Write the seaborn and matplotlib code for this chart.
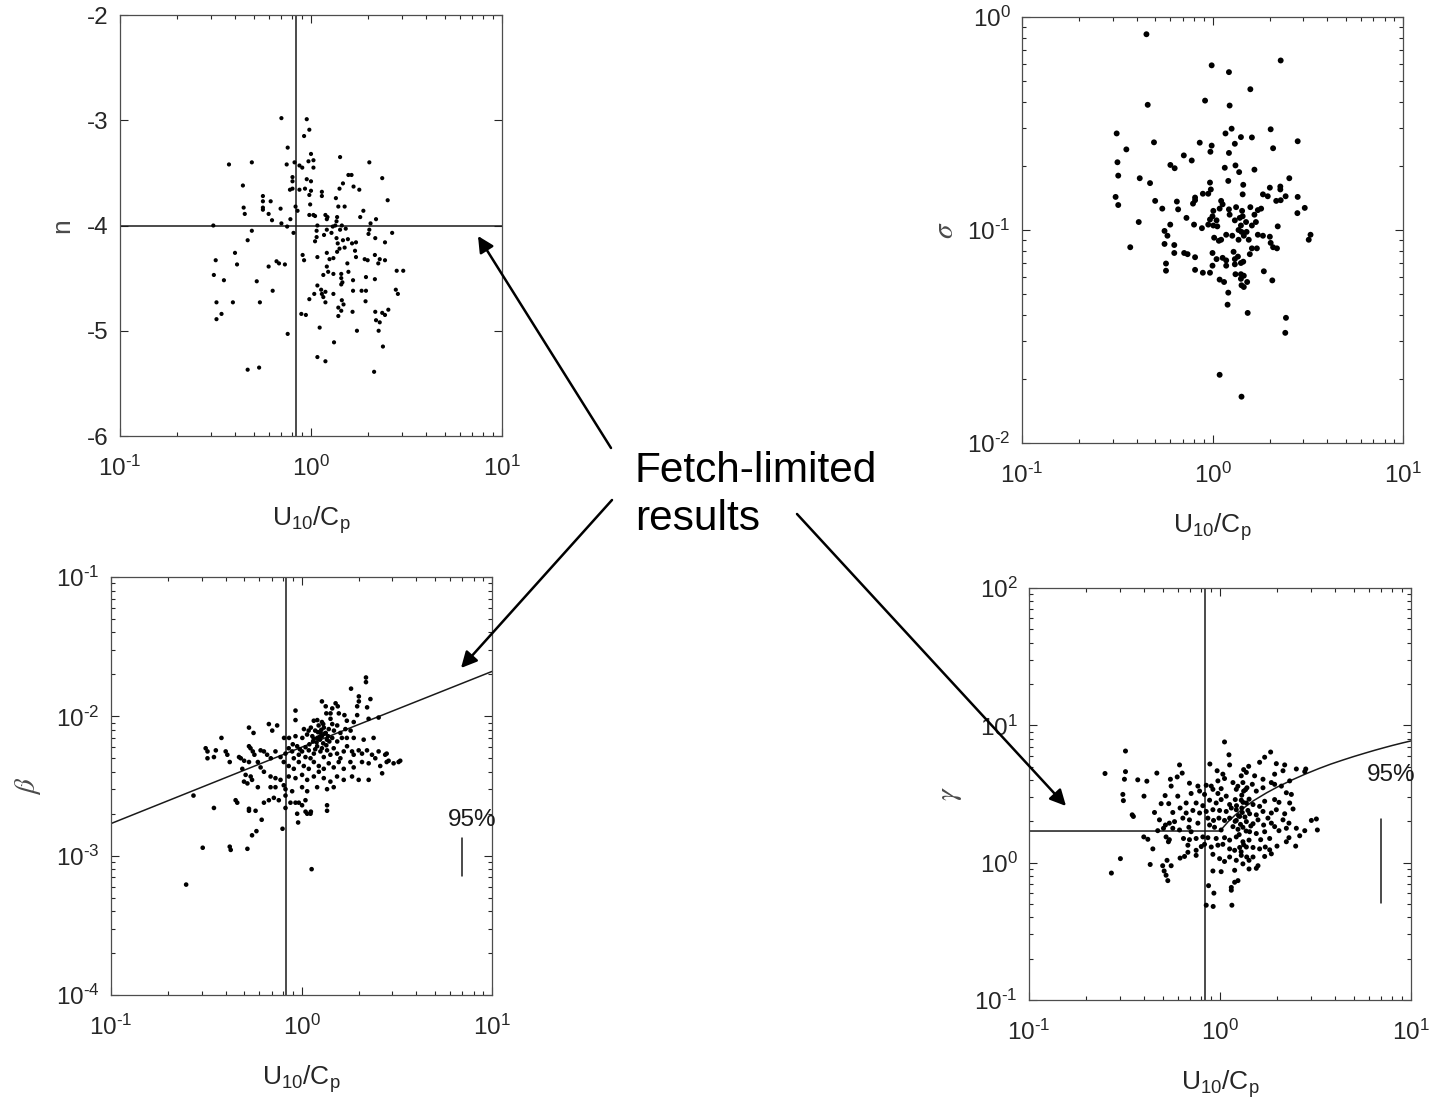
import numpy as np
import pandas as pd
import seaborn as sns
import matplotlib
matplotlib.use("Agg")
import matplotlib.pyplot as plt
from matplotlib.ticker import FuncFormatter

# ---------------- data ----------------
n_data = [(0.70,-2.98),(0.95,-2.99),(0.98,-3.09),(0.92,-3.15),(0.755,-3.26),(1.00,-3.32),(1.42,-3.35),
(0.372,-3.42),(0.49,-3.40),(0.746,-3.42),(0.82,-3.40),(0.97,-3.39),(1.03,-3.38),(1.03,-3.45),(2.02,-3.40),
(0.87,-3.43),(0.90,-3.45),(0.80,-3.54),(0.80,-3.58),(0.95,-3.56),(1.00,-3.58),(1.57,-3.52),(1.63,-3.52),
(2.36,-3.55),(0.44,-3.62),(0.776,-3.66),(0.80,-3.65),(0.93,-3.65),(1.00,-3.67),(0.98,-3.71),(0.87,-3.66),
(1.47,-3.60),(1.41,-3.65),(1.67,-3.63),(1.79,-3.66),(1.14,-3.68),(1.14,-3.72),(1.35,-3.74),(2.52,-3.76),
(0.56,-3.72),(0.56,-3.77),(0.615,-3.77),(0.444,-3.83),(0.45,-3.89),(0.56,-3.83),(0.56,-3.85),(0.693,-3.84),
(0.60,-3.89),(0.83,-3.82),(0.85,-3.86),(0.99,-3.80),(0.98,-3.90),(1.03,-3.90),(1.05,-3.91),(1.39,-3.82),
(1.50,-3.82),(1.88,-3.86),(1.81,-3.92),(2.19,-3.94),(2.05,-3.98),(0.308,-4.00),(0.625,-3.95),(0.70,-3.98),
(0.75,-4.01),(0.78,-3.94),(0.81,-4.07),(0.49,-4.05),(0.466,-4.14),(1.08,-4.00),(1.19,-3.90),(1.21,-3.94),
(1.22,-3.92),(1.37,-3.92),(1.36,-3.96),(1.34,-4.00),(1.45,-4.00),(1.42,-4.04),(1.52,-4.03),(1.30,-4.01),
(1.28,-4.07),(1.07,-4.05),(1.07,-4.11),(1.05,-4.15),(1.17,-4.09),(1.21,-4.04),(2.02,-4.04),(2.00,-4.08),
(2.17,-4.12),(2.44,-4.16),(2.66,-4.07),(1.36,-4.12),(1.38,-4.17),(1.47,-4.14),(1.41,-4.22),(1.37,-4.25),
(1.50,-4.21),(1.56,-4.13),(1.64,-4.17),(1.72,-4.16),(1.70,-4.24),(1.72,-4.30),(1.55,-4.36),(1.57,-4.44),
(1.44,-4.46),(1.44,-4.50),(1.46,-4.54),(1.44,-4.56),(1.31,-4.46),(1.23,-4.44),(1.16,-4.47),(1.21,-4.39),
(1.25,-4.32),(1.21,-4.26),(1.31,-4.31),(1.08,-4.30),(0.904,-4.28),(0.92,-4.33),(0.73,-4.37),(0.68,-4.36),
(0.66,-4.34),(0.60,-4.39),(0.317,-4.33),(0.31,-4.47),(0.35,-4.52),(0.32,-4.73),(0.32,-4.89),(0.34,-4.84),
(0.39,-4.73),(0.40,-4.26),(0.41,-4.37),(0.52,-4.53),(0.63,-4.62),(0.54,-4.73),(1.91,-4.32),(1.98,-4.33),
(2.16,-4.28),(2.29,-4.32),(2.25,-4.36),(2.44,-4.33),(2.81,-4.43),(3.04,-4.43),(1.94,-4.49),(1.84,-4.62),
(1.94,-4.62),(1.93,-4.72),(2.16,-4.51),(2.78,-4.61),(2.85,-4.65),(1.66,-4.52),(1.66,-4.62),(1.08,-4.57),
(1.13,-4.61),(1.14,-4.65),(1.19,-4.63),(1.16,-4.68),(1.04,-4.65),(0.98,-4.70),(1.31,-4.65),(1.19,-4.73),
(1.45,-4.71),(1.48,-4.75),(1.44,-4.81),(1.39,-4.78),(1.39,-4.86),(1.65,-4.82),(0.89,-4.84),(0.94,-4.85),
(1.74,-5.00),(1.11,-4.97),(1.32,-5.11),(2.17,-4.82),(2.19,-4.90),(2.29,-4.92),(2.36,-4.83),(2.44,-4.85),
(2.54,-4.80),(2.26,-5.00),(2.38,-5.15),(0.755,-5.03),(1.08,-5.25),(1.19,-5.29),(2.14,-5.39),(0.466,-5.37),
(0.535,-5.35)]

sigma_data = [(0.45,0.83),(2.28,0.625),(0.99,0.593),(1.22,0.551),(1.58,0.458),(0.457,0.387),(0.914,0.405),
(1.23,0.384),(0.314,0.284),(1.26,0.299),(1.17,0.284),(2.02,0.297),(2.80,0.261),(0.493,0.258),(0.857,0.257),
(0.99,0.249),(1.41,0.273),(1.61,0.272),(1.31,0.254),(1.22,0.230),(0.975,0.233),(2.08,0.242),(0.353,0.239),
(0.707,0.224),(0.778,0.212),(0.317,0.208),(0.601,0.202),(0.633,0.195),(1.16,0.196),(1.32,0.201),(1.38,0.187),
(1.66,0.192),(0.32,0.180),(0.415,0.175),(0.47,0.166),(1.21,0.170),(0.97,0.167),(0.98,0.155),(0.95,0.148),
(2.53,0.175),(2.27,0.160),(2.27,0.155),(2.0,0.158),(1.45,0.163),(1.44,0.147),(1.84,0.147),(1.95,0.144),
(2.16,0.137),(2.28,0.138),(2.42,0.144),(2.8,0.143),(3.05,0.127),(2.79,0.120),(0.31,0.143),(0.32,0.131),
(0.50,0.137),(0.545,0.126),(0.65,0.136),(0.66,0.125),(0.41,0.109),(0.73,0.114),(0.79,0.133),(0.81,0.142),
(0.81,0.138),(0.89,0.148),(1.11,0.137),(1.09,0.126),(1.13,0.132),(1.01,0.123),(1.0,0.116),(0.97,0.112),
(1.05,0.111),(1.01,0.105),(0.95,0.106),(0.80,0.106),(0.88,0.102),(1.06,0.104),(1.22,0.125),(1.23,0.118),
(1.33,0.128),(1.43,0.123),(1.31,0.111),(1.39,0.114),(1.44,0.116),(1.50,0.109),(1.58,0.128),(1.66,0.118),
(1.73,0.124),(1.80,0.126),(1.61,0.105),(1.69,0.109),(1.41,0.105),(1.37,0.100),(1.42,0.098),(1.51,0.098),
(1.46,0.094),(1.55,0.090),(1.37,0.090),(1.27,0.094),(1.18,0.095),(1.11,0.090),(1.02,0.092),(1.08,0.089),
(1.73,0.095),(1.84,0.094),(2.0,0.093),(2.20,0.104),(2.02,0.087),(2.08,0.083),(2.18,0.082),(3.27,0.095),
(3.2,0.090),(0.56,0.099),(0.58,0.094),(0.60,0.106),(0.56,0.086),(0.63,0.085),(0.63,0.078),(0.37,0.083),
(0.71,0.078),(0.74,0.077),(0.81,0.0745),(0.57,0.0696),(0.57,0.0644),(0.81,0.065),(0.89,0.063),(0.97,0.063),
(1.0,0.068),(1.0,0.078),(1.05,0.073),(1.13,0.074),(1.18,0.072),(1.18,0.068),(1.29,0.079),(1.31,0.073),
(1.36,0.075),(1.31,0.069),(1.41,0.070),(1.45,0.071),(1.57,0.077),(1.61,0.082),(1.71,0.082),(1.32,0.062),
(1.41,0.062),(1.46,0.061),(1.41,0.059),(1.52,0.057),(1.42,0.055),(1.46,0.054),(1.86,0.064),(2.06,0.058),
(1.09,0.0585),(1.15,0.057),(1.21,0.0508),(1.20,0.0446),(1.53,0.0408),(2.43,0.0387),(2.41,0.0329),
(1.09,0.0209),(1.42,0.0165)]

beta_data = [(2.18,0.0190),(2.18,0.0176),(1.82,0.0158),(2.0,0.0139),(2.30,0.0133),(2.0,0.0128),(1.28,0.0128),
(1.51,0.0124),(1.55,0.0118),(0.93,0.0110),(1.34,0.0118),(1.45,0.0114),(1.96,0.0118),(2.21,0.0116),
(1.35,0.0105),(1.42,0.0105),(1.57,0.0105),(1.68,0.0102),(1.73,0.0093),(1.96,0.0102),(0.93,0.0094),
(1.21,0.0094),(1.28,0.0091),(1.42,0.0096),(2.25,0.0096),(2.54,0.0098),(1.88,0.0091),(1.54,0.0086),
(1.45,0.0088),(0.674,0.0088),(0.745,0.0086),(0.702,0.0079),(0.53,0.0083),(0.56,0.0076),(0.38,0.0070),
(1.03,0.0081),(1.09,0.0079),(1.16,0.0093),(1.23,0.0086),(1.31,0.0083),(1.18,0.0079),(1.26,0.0076),
(1.34,0.0076),(1.39,0.0081),(1.48,0.0079),(1.60,0.0076),(1.70,0.0081),(1.81,0.0079),(0.81,0.0070),
(0.86,0.0070),(0.93,0.0072),(1.01,0.0070),(1.07,0.0074),(1.14,0.0072),(1.21,0.0070),(1.28,0.0072),
(1.36,0.0068),(1.45,0.0070),(1.54,0.0066),(1.63,0.0070),(1.73,0.0070),(1.88,0.0070),(2.12,0.0068),
(2.39,0.0070),(0.314,0.0059),(0.321,0.0056),(0.321,0.0050),(0.355,0.0057),(0.347,0.0051),(0.40,0.0056),
(0.408,0.0053),(0.42,0.0047),(0.47,0.0051),(0.48,0.0050),(0.50,0.0048),(0.53,0.0061),(0.54,0.0059),
(0.555,0.0056),(0.566,0.0053),(0.53,0.0047),(0.59,0.0047),(0.61,0.0057),(0.635,0.0056),(0.66,0.0053),
(0.69,0.0050),(0.73,0.0056),(0.776,0.0051),(0.824,0.0054),(0.857,0.0059),(0.893,0.0056),(0.911,0.0050),
(0.949,0.0061),(0.968,0.0053),(1.007,0.0056),(1.049,0.0051),(1.092,0.0057),(1.115,0.0050),(1.161,0.0054),
(1.208,0.0061),(1.257,0.0056),(1.309,0.0051),(1.362,0.0057),(1.418,0.0053),(1.476,0.0059),(1.537,0.0054),
(1.60,0.0050),(1.666,0.0056),(1.734,0.0061),(1.842,0.0056),(1.879,0.0053),(1.996,0.0057),(2.078,0.0054),
(2.207,0.0057),(2.344,0.0053),(2.54,0.0056),(2.75,0.0053),(2.866,0.0048),(3.044,0.0046),(3.234,0.0047),
(3.298,0.0048),(0.807,0.0047),(0.857,0.0044),(0.911,0.0042),(0.968,0.0047),(1.028,0.0044),(1.092,0.0042),
(1.161,0.0047),(1.233,0.0044),(1.309,0.0042),(1.390,0.0046),(1.476,0.0043),(1.568,0.0047),(1.666,0.0042),
(1.806,0.0047),(1.879,0.0043),(2.078,0.0047),(2.252,0.0046),(2.44,0.0050),(2.59,0.0044),(0.489,0.0042),
(0.509,0.0038),(0.541,0.0037),(0.55,0.0035),(0.61,0.0043),(0.635,0.0040),(0.688,0.0037),(0.73,0.0036),
(0.776,0.0035),(0.857,0.0037),(0.93,0.0036),(1.007,0.0038),(1.071,0.0035),(1.161,0.0037),(1.233,0.0040),
(1.309,0.0036),(1.418,0.0034),(1.537,0.0037),(1.666,0.0035),(1.842,0.0037),(1.996,0.0035),(2.252,0.0035),
(0.499,0.0034),(0.52,0.0033),(0.59,0.0031),(0.688,0.0031),(0.73,0.0031),(0.807,0.0032),(0.824,0.0030),
(0.893,0.0029),(1.007,0.0031),(1.071,0.0029),(1.208,0.0031),(1.362,0.0030),(1.476,0.0031),(0.451,0.0025),
(0.46,0.0024),(0.53,0.0021),(0.574,0.0021),(0.635,0.0024),(0.674,0.0025),(0.716,0.0026),(0.76,0.0025),
(0.824,0.0027),(0.824,0.0022),(0.875,0.0024),(0.93,0.0024),(0.968,0.0024),(1.007,0.0023),(1.049,0.0025),
(1.362,0.0023),(1.362,0.0021),(0.347,0.0022),(0.271,0.0027),(0.949,0.0020),(1.071,0.0020),(1.115,0.0020),
(0.248,0.00062),(0.303,0.00114),(0.42,0.00116),(0.425,0.00110),(0.52,0.00112),(1.13,0.00080),(0.55,0.00140),
(0.58,0.00150),(0.795,0.00156),(0.96,0.00173),(0.618,0.00181),(1.05,0.00207),(1.12,0.00207),(0.53,0.00217),
(2.65,0.0039),(2.8,0.0054),(2.8,0.0047),(1.2,0.0065),(1.25,0.0068),(1.3,0.0064),(1.32,0.0075),(1.27,0.0080),
(1.22,0.0077),(1.15,0.0066),(1.1,0.0063),(1.35,0.0062),(1.4,0.0066),(1.18,0.0058),(1.28,0.0059),(1.05,0.0060),
(0.98,0.0058),(0.9,0.0063),(1.12,0.0083),(1.3,0.0088),(1.38,0.0072),(1.24,0.0071),(1.16,0.0069)]

gamma_data = [(1.056,7.57),(0.320,6.50),(1.114,6.10),(1.841,6.39),(1.713,5.86),(0.885,5.23),(0.614,5.15),
(1.123,5.15),(0.250,4.46),(0.32,4.60),(0.467,4.49),(0.966,4.67),(1.330,4.76),(1.413,5.03),(1.612,5.38),
(1.972,5.26),(2.181,5.15),(2.510,4.81),(2.778,4.60),(2.812,4.81),(0.316,4.05),(0.371,4.01),(0.414,3.92),
(0.550,4.05),(0.597,4.21),(0.634,4.49),(1.035,4.41),(1.292,4.29),(1.374,4.54),(1.518,4.29),(1.679,4.05),
(1.932,4.41),(2.137,4.67),(2.316,3.94),(1.932,3.72),(2.096,3.61),(0.555,3.61),(0.692,3.79),(0.766,3.61),
(0.847,3.66),(0.900,3.61),(0.975,3.94),(1.056,4.10),(1.169,3.83),(1.318,3.83),(1.476,3.72),(1.679,3.51),
(1.857,3.83),(2.225,3.23),(2.364,3.14),(0.310,3.14),(0.40,3.05),(0.312,2.83),(0.516,3.08),(0.601,3.05),
(0.706,3.19),(0.782,3.32),(0.830,3.14),(0.918,3.42),(0.975,3.19),(1.014,3.46),(1.078,3.05),(1.217,3.42),
(1.330,3.32),(1.384,3.51),(1.549,3.32),(1.713,2.80),(1.932,2.88),(2.036,2.75),(2.316,2.72),(2.412,2.46),
(0.492,2.69),(0.539,2.69),(0.618,2.50),(0.665,2.72),(0.750,2.72),(0.813,2.60),(0.882,2.85),(0.955,2.72),
(1.014,2.88),(1.123,2.65),(1.202,2.88),(1.292,2.85),(1.374,2.72),(1.489,2.65),(1.612,2.57),(0.454,2.32),
(0.566,2.32),(0.665,2.30),(0.721,2.40),(0.782,2.30),(0.847,2.36),(0.918,2.43),(0.995,2.40),(1.078,2.36),
(1.146,2.50),(1.217,2.43),(1.308,2.32),(1.429,2.27),(1.549,2.23),(1.679,2.36),(1.782,2.11),(1.857,2.30),
(1.972,2.43),(2.181,2.27),(2.137,2.05),(2.296,1.94),(0.347,2.23),(0.352,2.17),(0.482,2.05),(0.518,1.88),
(0.543,1.94),(0.578,1.99),(0.639,2.11),(0.692,2.05),(0.766,1.94),(0.864,2.11),(0.925,2.03),(0.987,2.11),
(1.056,2.03),(1.123,2.11),(1.217,2.03),(1.268,2.17),(1.374,1.99),(1.489,1.92),(1.581,2.05),(1.692,1.88),
(1.857,1.94),(1.932,1.83),(1.713,1.68),(2.036,1.71),(2.225,1.78),(2.510,1.78),(3.009,2.03),(3.196,2.08),
(3.234,1.73),(2.778,1.71),(2.614,1.57),(0.472,1.71),(0.506,1.78),(0.566,1.78),(0.614,1.73),(0.687,1.81),
(0.706,1.68),(0.882,1.88),(0.936,1.81),(1.014,1.73),(1.169,1.83),(1.242,1.75),(1.318,1.81),(1.429,1.68),
(1.549,1.63),(0.399,1.54),(0.419,1.48),(0.522,1.54),(0.537,1.42),(0.543,1.47),(0.644,1.50),(0.692,1.47),
(0.750,1.50),(0.813,1.54),(0.864,1.52),(0.955,1.50),(1.056,1.52),(1.123,1.46),(1.217,1.54),(1.318,1.42),
(1.419,1.46),(1.633,1.47),(1.820,1.50),(2.296,1.52),(0.445,1.26),(0.679,1.34),(0.679,1.19),(0.750,1.23),
(0.798,1.31),(0.830,1.36),(0.900,1.30),(0.975,1.34),(1.035,1.36),(1.123,1.26),(1.193,1.23),(1.268,1.29),
(1.374,1.30),(1.489,1.29),(1.612,1.26),(1.726,1.30),(1.820,1.24),(1.988,1.32),(2.225,1.42),(2.490,1.32),
(0.301,1.07),(0.431,0.97),(0.501,0.95),(0.528,1.04),(0.555,0.95),(0.51,0.87),(0.522,0.81),(0.533,0.74),
(0.618,1.08),(0.652,1.11),(0.750,1.13),(0.918,1.15),(0.995,1.07),(1.056,1.02),(1.123,1.10),(1.217,1.04),
(1.292,1.13),(1.318,0.98),(1.419,1.04),(1.489,1.10),(1.581,0.95),(1.713,1.11),(1.857,1.16),(0.270,0.84),
(0.918,0.87),(1.014,0.86),(1.193,0.88),(1.419,0.90),(1.549,0.91),(0.871,0.68),(0.929,0.60),(1.146,0.66),
(1.193,0.72),(1.242,0.74),(1.146,0.63),(0.847,0.49),(0.921,0.48),(1.154,0.49),
(1.25,2.2),(1.3,2.5),(1.35,2.15),(1.28,1.9),(1.22,2.6),(1.32,2.75),(1.4,2.4),(1.45,1.85),(1.2,2.0),
(1.37,1.7),(1.26,1.6),(1.33,1.35),(1.29,1.2),(1.38,1.1),(1.42,2.9),(1.3,3.1),(1.36,3.4),(1.24,3.6)]

# fitted relations
beta_fit_x = [0.1, 1.0, 10.0]
beta_fit_y = [0.0017, 0.0060, 0.021]
gamma_fit_x = [0.1, 1.0, 1.1, 1.2, 1.35, 1.5, 1.75, 2.0, 2.4, 2.8, 3.3, 3.8, 4.4, 5.0, 5.8, 6.5, 7.3, 8.0, 9.0, 10.0]
gamma_fit_y = [1.7, 1.7, 1.98, 2.22, 2.54, 2.83, 3.22, 3.56, 4.02, 4.42, 4.85, 5.22, 5.59, 5.92, 6.3, 6.6, 6.9, 7.14, 7.44, 7.7]

ref_x = 0.83       # vertical reference line
ref_n = -4.0       # horizontal reference line (n panel)

# ---------------- style ----------------
sns.set_style("ticks")
plt.rcParams["font.family"] = ["Liberation Sans", "DejaVu Sans"]
plt.rcParams["mathtext.fontset"] = "custom"
plt.rcParams["mathtext.rm"] = "Liberation Sans"
plt.rcParams["mathtext.it"] = "Liberation Sans:italic"
plt.rcParams["axes.unicode_minus"] = False

W, H = 1434, 1107
fig = plt.figure(figsize=(W / 100, H / 100), dpi=100)

def rect(l, t, r, b):
    return [l / W, 1 - b / H, (r - l) / W, (b - t) / H]

ax_n = fig.add_axes(rect(120, 15, 502, 436))
ax_s = fig.add_axes(rect(1022, 17, 1403, 443))
ax_b = fig.add_axes(rect(111, 577, 492, 995))
ax_g = fig.add_axes(rect(1029, 588, 1411, 1000))

INK = "#262626"
LABEL_GREY = "#4a4a4a"

def pow10(v, pos):
    e = int(round(np.log10(v)))
    return r"$\mathdefault{10^{\text{%d}}}$" % e

def style(ax, logy=True):
    ax.set_xscale("log")
    if logy:
        ax.set_yscale("log")
        ax.yaxis.set_major_formatter(FuncFormatter(pow10))
    ax.set_xlim(0.1, 10)
    ax.set_xticks([0.1, 1, 10])
    ax.xaxis.set_major_formatter(FuncFormatter(pow10))
    ax.tick_params(which="both", direction="in", top=True, right=True,
                   colors=INK, labelsize=17.5, width=0.8)
    ax.tick_params(which="major", length=6)
    ax.tick_params(which="minor", length=3)
    ax.tick_params(axis="y", which="major", pad=8)
    ax.tick_params(axis="x", which="major", pad=14)
    for sp in ax.spines.values():
        sp.set_color("#4d4d4d")
        sp.set_linewidth(0.9)
    ax.set_xlabel(r"U$_{\mathrm{10}}$/C$_{\mathrm{p}}$", fontsize=19, color=INK, labelpad=17)

def ylabel(ax, text, xfrac, **kw):
    ax.set_ylabel(text, color=LABEL_GREY, **kw)
    ax.yaxis.set_label_coords(xfrac, 0.5)
    ax.yaxis.label.set_verticalalignment("center")

def scatter(ax, pts, ycol, size):
    df = pd.DataFrame(pts, columns=["U10/Cp", ycol])
    sns.scatterplot(data=df, x="U10/Cp", y=ycol, ax=ax, color="black",
                    s=size, edgecolor="none", linewidth=0, legend=False, zorder=3)

# n panel
scatter(ax_n, n_data, "n", 9)
ax_n.axvline(ref_x, color="#1a1a1a", lw=1.1, zorder=2)
ax_n.axhline(ref_n, color="#1a1a1a", lw=1.1, zorder=2)
style(ax_n, logy=False)
ax_n.set_ylim(-6, -2)
ax_n.set_yticks([-6, -5, -4, -3, -2])
ylabel(ax_n, "n", -0.152, fontsize=19)

# sigma panel
scatter(ax_s, sigma_data, "sigma", 18)
style(ax_s)
ax_s.set_ylim(0.01, 1)
ylabel(ax_s, r"$\sigma$", -0.202, fontsize=21, math_fontfamily="stix")

# beta panel
scatter(ax_b, beta_data, "beta", 11)
ax_b.axvline(ref_x, color="#1a1a1a", lw=1.1, zorder=2)
sns.lineplot(x=beta_fit_x, y=beta_fit_y, ax=ax_b, color="#1a1a1a", lw=1.1,
             estimator=None, sort=False, legend=False)
style(ax_b)
ax_b.set_ylim(1e-4, 1e-1)
ylabel(ax_b, r"$\beta$", -0.218, fontsize=21, math_fontfamily="stix")
ax_b.plot([7.0, 7.0], [7.1e-4, 1.34e-3], color="#1a1a1a", lw=1.1)
ax_b.text(5.9, 1.8e-3, "95%", fontsize=17.5, color="#1a1a1a", ha="left", va="center")

# gamma panel
scatter(ax_g, gamma_data, "gamma", 13)
ax_g.axvline(ref_x, color="#1a1a1a", lw=1.1, zorder=2)
sns.lineplot(x=gamma_fit_x, y=gamma_fit_y, ax=ax_g, color="#1a1a1a", lw=1.1,
             estimator=None, sort=False, legend=False)
style(ax_g)
ax_g.set_ylim(0.1, 100)
ylabel(ax_g, r"$\gamma$", -0.207, fontsize=21, math_fontfamily="stix")
ax_g.plot([7.0, 7.0], [0.51, 2.07], color="#1a1a1a", lw=1.1)
ax_g.text(5.9, 4.35, "95%", fontsize=17.5, color="#1a1a1a", ha="left", va="center")

# annotation text and arrows
def fpos(x, y):
    return (x / W, 1 - y / H)

fig.text(*fpos(635, 482), "Fetch-limited", fontsize=30.5, color="black", ha="left", va="baseline")
fig.text(*fpos(635, 530), "results", fontsize=30.5, color="black", ha="left", va="baseline")

for tail, head in [((611, 448), (478, 236)), ((612, 500), (461, 668)), ((797, 514), (1066, 806))]:
    fig.add_artist(matplotlib.patches.FancyArrowPatch(
        fpos(*tail), fpos(*head), transform=fig.transFigure,
        arrowstyle="-|>", mutation_scale=24, lw=1.8, color="black", shrinkA=0, shrinkB=0))

fig.savefig("out.png", dpi=100, facecolor="white")
